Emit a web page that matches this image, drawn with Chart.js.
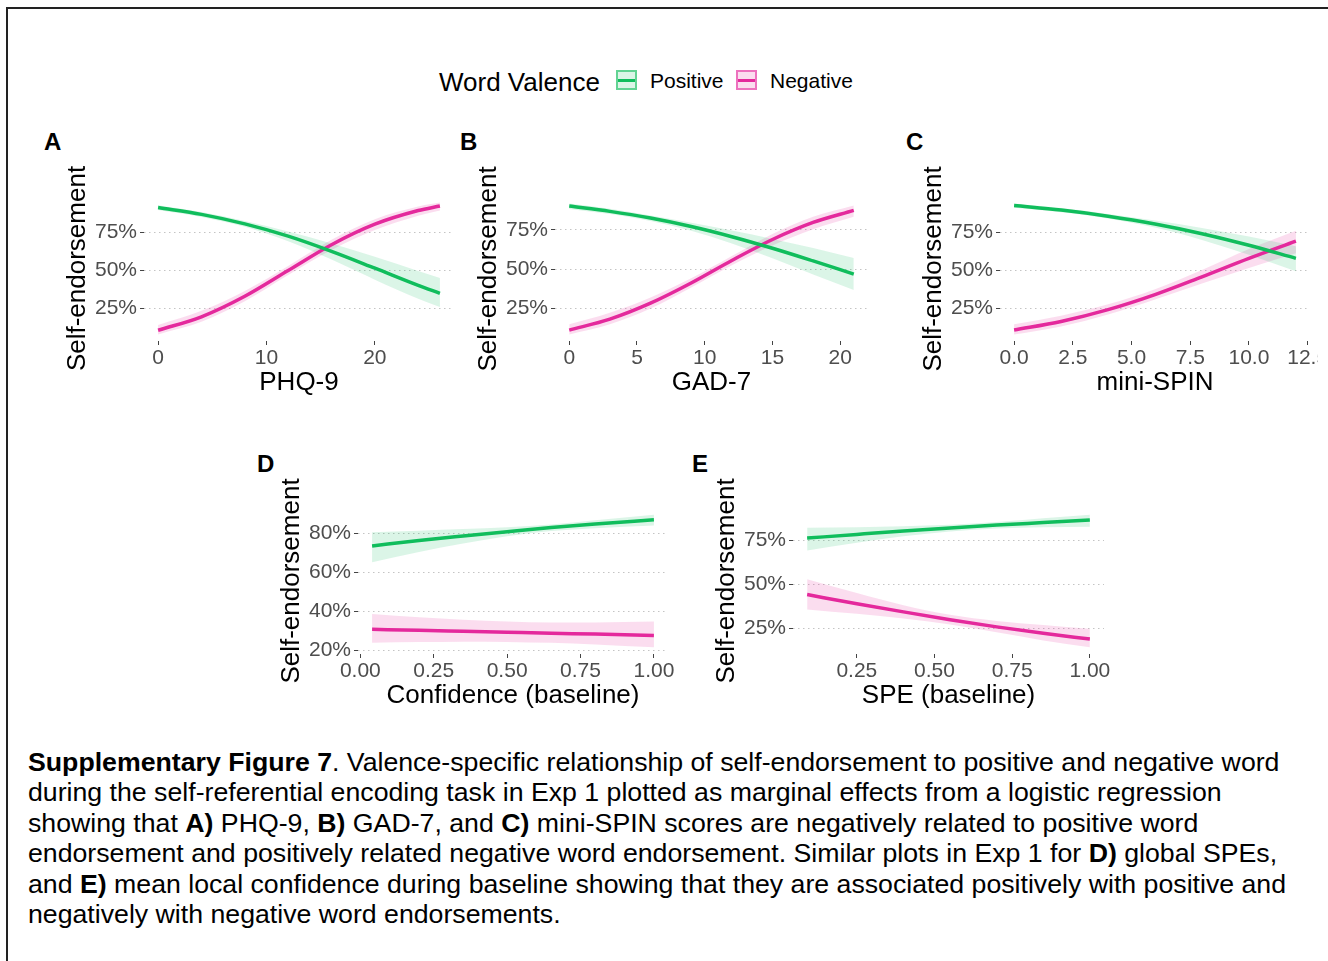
<!DOCTYPE html>
<html>
<head>
<meta charset="utf-8">
<script src="https://cdn.jsdelivr.net/npm/chart.js@4.4.0/dist/chart.umd.min.js"></script>
<style>
html, body { margin:0; padding:0; background:#fff; width:1328px; height:961px; overflow:hidden;
  font-family:"Liberation Sans", Arial, Helvetica, sans-serif; color:#000; }
#frame { position:absolute; left:6px; top:7px; width:1340px; height:980px;
  border-top:2px solid #222; border-left:2px solid #222; }
#fig { position:absolute; left:0; top:0; width:1318px; height:961px; overflow:hidden; }
#fig canvas { position:absolute; }
.tag { position:absolute; font-weight:bold; font-size:24px; line-height:1; }
.leg { position:absolute; line-height:1; white-space:nowrap; }
.key { position:absolute; width:17px; height:16px; border:2px solid; box-sizing:content-box; }
.key i { position:absolute; left:0; right:0; top:7px; height:3px; }
#caption { position:absolute; left:28px; top:747px; font-size:26.7px; line-height:30.4px; white-space:nowrap; }
</style>
</head>
<body>
<div id="frame"></div>
<div id="fig">
  <div class="leg" style="left:439px;top:69px;font-size:26px">Word Valence</div>
  <div class="key" id="keyPos" style="left:616px;top:70px"><i></i></div>
  <div class="leg" id="legPos" style="left:650px;top:70px;font-size:21px"></div>
  <div class="key" id="keyNeg" style="left:736px;top:70px"><i></i></div>
  <div class="leg" id="legNeg" style="left:770px;top:70px;font-size:21px"></div>

  <div class="tag" style="left:44px;top:130px">A</div>
  <div class="tag" style="left:460px;top:130px">B</div>
  <div class="tag" style="left:906px;top:130px">C</div>
  <div class="tag" style="left:257px;top:452px">D</div>
  <div class="tag" style="left:692px;top:452px">E</div>

  <canvas id="cA"></canvas>
  <canvas id="cB"></canvas>
  <canvas id="cC"></canvas>
  <canvas id="cD"></canvas>
  <canvas id="cE"></canvas>
</div>
<div id="caption"><b>Supplementary Figure 7</b>. Valence-specific relationship of self-endorsement to positive and negative word<br>during the self-referential encoding task in Exp 1 plotted as marginal effects from a logistic regression<br>showing that <b>A)</b> PHQ-9, <b>B)</b> GAD-7, and <b>C)</b> mini-SPIN scores are negatively related to positive word<br>endorsement and positively related negative word endorsement. Similar plots in Exp 1 for <b>D)</b> global SPEs,<br>and <b>E)</b> mean local confidence during baseline showing that they are associated positively with positive and<br>negatively with negative word endorsements.</div>

<script>
// series names / colours
const valence = ['Positive', 'Negative'];
const posColor = '#10bd5c';
const negColor = '#e4299c';
const posFill = 'rgba(16,189,92,0.15)';
const negFill = 'rgba(228,41,156,0.16)';

// A) PHQ-9
const phqX   = [0, 4, 8, 12, 16, 20, 24, 26];
const posA   = [0.910, 0.865, 0.803, 0.723, 0.624, 0.514, 0.402, 0.350];
const posLoA = [0.893, 0.848, 0.784, 0.690, 0.570, 0.439, 0.315, 0.261];
const posHiA = [0.924, 0.880, 0.822, 0.754, 0.675, 0.588, 0.496, 0.450];
const negA   = [0.109, 0.197, 0.331, 0.499, 0.667, 0.801, 0.890, 0.920];
const negLoA = [0.082, 0.164, 0.298, 0.469, 0.632, 0.763, 0.856, 0.890];
const negHiA = [0.143, 0.236, 0.366, 0.529, 0.700, 0.834, 0.917, 0.942];

// B) GAD-7
const gadX   = [0, 3, 6, 9, 12, 15, 18, 21];
const posB   = [0.903, 0.869, 0.826, 0.772, 0.707, 0.633, 0.552, 0.468];
const posLoB = [0.884, 0.852, 0.808, 0.745, 0.664, 0.569, 0.466, 0.367];
const posHiB = [0.919, 0.885, 0.842, 0.796, 0.747, 0.693, 0.634, 0.571];
const negB   = [0.110, 0.180, 0.282, 0.411, 0.555, 0.689, 0.798, 0.875];
const negLoB = [0.082, 0.147, 0.248, 0.383, 0.525, 0.651, 0.755, 0.835];
const negHiB = [0.147, 0.220, 0.318, 0.441, 0.584, 0.725, 0.835, 0.907];

// C) mini-SPIN
const spinX  = [0, 2, 4, 6, 8, 10, 12];
const posC   = [0.924, 0.894, 0.854, 0.803, 0.739, 0.663, 0.577];
const posLoC = [0.909, 0.880, 0.839, 0.779, 0.698, 0.600, 0.492];
const posHiC = [0.937, 0.907, 0.869, 0.825, 0.776, 0.720, 0.657];
const negC   = [0.106, 0.162, 0.240, 0.339, 0.456, 0.577, 0.690];
const negLoC = [0.077, 0.130, 0.208, 0.307, 0.411, 0.513, 0.610];
const negHiC = [0.144, 0.200, 0.275, 0.374, 0.501, 0.639, 0.759];

// D) Confidence (baseline)
const confX  = [0.04, 0.2, 0.35, 0.5, 0.65, 0.8, 1.0];
const posD   = [0.734, 0.762, 0.785, 0.807, 0.828, 0.846, 0.868];
const posLoD = [0.651, 0.703, 0.746, 0.783, 0.810, 0.825, 0.838];
const posHiD = [0.804, 0.812, 0.820, 0.830, 0.844, 0.865, 0.894];
const negD   = [0.308, 0.303, 0.298, 0.293, 0.288, 0.284, 0.277];
const negLoD = [0.239, 0.243, 0.245, 0.244, 0.239, 0.231, 0.216];
const negHiD = [0.387, 0.370, 0.357, 0.348, 0.343, 0.343, 0.348];

// E) SPE (baseline)
const speX   = [0.09, 0.25, 0.4, 0.55, 0.7, 0.85, 1.0];
const posE   = [0.763, 0.784, 0.803, 0.820, 0.837, 0.851, 0.865];
const posLoE = [0.693, 0.737, 0.773, 0.801, 0.817, 0.824, 0.828];
const posHiE = [0.822, 0.825, 0.830, 0.838, 0.854, 0.875, 0.896];
const negE   = [0.443, 0.391, 0.345, 0.301, 0.260, 0.224, 0.191];
const negLoE = [0.359, 0.334, 0.308, 0.274, 0.229, 0.183, 0.144];
const negHiE = [0.530, 0.452, 0.383, 0.329, 0.294, 0.270, 0.249];

// tick values and labels
const yTicks4 = [0.25, 0.5, 0.75];
const yLabels4 = ['25%', '50%', '75%'];
const yTicksD = [0.2, 0.4, 0.6, 0.8];
const yLabelsD = ['20%', '40%', '60%', '80%'];
const xTicksA = [0, 10, 20];
const xLabelsA = ['0', '10', '20'];
const xTicksB = [0, 5, 10, 15, 20];
const xLabelsB = ['0', '5', '10', '15', '20'];
const xTicksC = [0, 2.5, 5, 7.5, 10, 12.5];
const xLabelsC = ['0.0', '2.5', '5.0', '7.5', '10.0', '12.5'];
const xTicksD = [0, 0.25, 0.5, 0.75, 1];
const xLabelsD = ['0.00', '0.25', '0.50', '0.75', '1.00'];
const xTicksE = [0.25, 0.5, 0.75, 1];
const xLabelsE = ['0.25', '0.50', '0.75', '1.00'];

const FONT = '"Liberation Sans", Arial, Helvetica, sans-serif';
const YAXIS_W = 90, XAXIS_H = 57, PAD_TOP = 40, PAD_RIGHT = 30;

// legend
document.getElementById('legPos').textContent = valence[0];
document.getElementById('legNeg').textContent = valence[1];
[['keyPos', posColor, posFill], ['keyNeg', negColor, negFill]].forEach(function(k) {
  const el = document.getElementById(k[0]);
  el.style.borderColor = k[1] + '99';
  el.style.background = k[2];
  el.firstChild.style.background = k[1];
});

function pts(xs, ys) { return xs.map(function(x, i) { return {x: x, y: ys[i]}; }); }

// ggplot-like 5% expansion of the data range
function expand(lo, hi) { const d = (hi - lo) * 0.05; return [lo - d, hi + d]; }

function panel(id, box, xs, s, xTicks, xLabels, yTicks, yLabels, xTitle) {
  const canvas = document.getElementById(id);
  canvas.width = YAXIS_W + box.w + PAD_RIGHT;
  canvas.height = PAD_TOP + box.h + XAXIS_H;
  canvas.style.left = (box.l - YAXIS_W) + 'px';
  canvas.style.top = (box.t - PAD_TOP) + 'px';

  const xr = expand(Math.min.apply(null, xs), Math.max.apply(null, xs));
  const yr = expand(Math.min.apply(null, s.posLo.concat(s.negLo)),
                    Math.max.apply(null, s.posHi.concat(s.negHi)));

  const line = function(data, color) {
    return {data: data, borderColor: color, borderWidth: 3.5, pointRadius: 0,
            cubicInterpolationMode: 'monotone', fill: false};
  };
  const edge = function(data, fill, bg) {
    return {data: data, borderWidth: 0, borderColor: 'rgba(0,0,0,0)', pointRadius: 0,
            cubicInterpolationMode: 'monotone', fill: fill, backgroundColor: bg};
  };

  new Chart(canvas, {
    type: 'line',
    data: {
      datasets: [
        line(pts(xs, s.pos), posColor),
        line(pts(xs, s.neg), negColor),
        edge(pts(xs, s.posLo), false, posFill),
        edge(pts(xs, s.posHi), 2, posFill),
        edge(pts(xs, s.negLo), false, negFill),
        edge(pts(xs, s.negHi), 4, negFill)
      ]
    },
    options: {
      responsive: false,
      animation: false,
      devicePixelRatio: 1,
      layout: {padding: {top: PAD_TOP, right: PAD_RIGHT, left: 0, bottom: 0}},
      plugins: {legend: {display: false}, tooltip: {enabled: false}},
      scales: {
        x: {
          type: 'linear', min: xr[0], max: xr[1],
          afterBuildTicks: function(sc) { sc.ticks = xTicks.map(function(v) { return {value: v}; }); },
          afterFit: function(sc) { sc.height = XAXIS_H; },
          ticks: {callback: function(v, i) { return xLabels[i]; }, autoSkip: false, maxRotation: 0,
                  font: {size: 21, family: FONT}, color: '#4d4d4d', padding: 1},
          grid: {drawOnChartArea: false, drawTicks: true, tickLength: 4, tickColor: '#444', color: '#444'},
          border: {display: false},
          title: {display: true, text: xTitle, color: '#000', font: {size: 26, family: FONT}, padding: 0}
        },
        y: {
          min: yr[0], max: yr[1],
          afterBuildTicks: function(sc) { sc.ticks = yTicks.map(function(v) { return {value: v}; }); },
          afterFit: function(sc) { sc.width = YAXIS_W; },
          ticks: {callback: function(v, i) { return yLabels[i]; }, autoSkip: false,
                  font: {size: 21, family: FONT}, color: '#4d4d4d', padding: 3},
          grid: {color: '#c4c4c4', lineWidth: 1, tickLength: 4, tickColor: '#444'},
          border: {display: false, dash: [1.5, 3.5]},
          title: {display: true, text: 'Self-endorsement', color: '#000',
                  font: {size: 26, family: FONT}, padding: {top: 8, bottom: 0}}
        }
      }
    }
  });
}

panel('cA', {l: 144, t: 196, w: 310, h: 145}, phqX,
  {pos: posA, posLo: posLoA, posHi: posHiA, neg: negA, negLo: negLoA, negHi: negHiA},
  xTicksA, xLabelsA, yTicks4, yLabels4, 'PHQ-9');
panel('cB', {l: 555, t: 197, w: 313, h: 144}, gadX,
  {pos: posB, posLo: posLoB, posHi: posHiB, neg: negB, negLo: negLoB, negHi: negHiB},
  xTicksB, xLabelsB, yTicks4, yLabels4, 'GAD-7');
panel('cC', {l: 1000, t: 197, w: 310, h: 144}, spinX,
  {pos: posC, posLo: posLoC, posHi: posHiC, neg: negC, negLo: negLoC, negHi: negHiC},
  xTicksC, xLabelsC, yTicks4, yLabels4, 'mini-SPIN');
panel('cD', {l: 358, t: 508, w: 310, h: 146}, confX,
  {pos: posD, posLo: posLoD, posHi: posHiD, neg: negD, negLo: negLoD, negHi: negHiD},
  xTicksD, xLabelsD, yTicksD, yLabelsD, 'Confidence (baseline)');
panel('cE', {l: 793, t: 508, w: 311, h: 146}, speX,
  {pos: posE, posLo: posLoE, posHi: posHiE, neg: negE, negLo: negLoE, negHi: negHiE},
  xTicksE, xLabelsE, yTicks4, yLabels4, 'SPE (baseline)');
</script>
</body>
</html>
